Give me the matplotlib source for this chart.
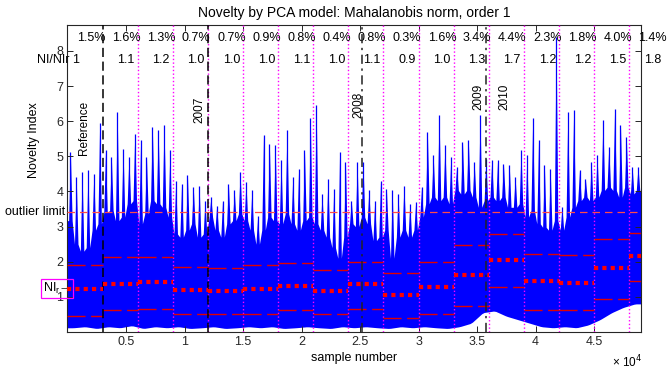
import numpy as np
import matplotlib
matplotlib.use('Agg')
import matplotlib.pyplot as plt
from matplotlib.transforms import blended_transform_factory

plt.rcParams['font.family'] = ['Liberation Sans', 'DejaVu Sans']

# ---------------- data ----------------
seg_edges = [0, 3000, 6000, 9000, 12000, 15000, 18000, 21000, 24000, 27000,
             30000, 33000, 36000, 39000, 42000, 45000, 48000, 49000]
outlier_pct = [1.5, 1.6, 1.3, 0.7, 0.7, 0.9, 0.8, 0.4, 0.8, 0.3, 1.6, 3.4,
               4.4, 2.3, 1.8, 4.0, 1.4]
ni_ratio = [1, 1.1, 1.2, 1.0, 1.0, 1.0, 1.1, 1.0, 1.1, 0.9, 1.0, 1.3, 1.7,
            1.2, 1.2, 1.5, 1.8]
seg_median = [1.21, 1.38, 1.41, 1.19, 1.17, 1.22, 1.31, 1.17, 1.36, 1.04,
              1.27, 1.61, 2.06, 1.45, 1.40, 1.81, 2.15]
seg_upper = [1.92, 2.14, 2.14, 1.86, 1.83, 1.90, 1.95, 1.76, 2.00, 1.67,
             2.00, 2.47, 2.79, 2.23, 2.18, 2.65, 2.82]
seg_lower = [0.46, 0.62, 0.65, 0.51, 0.51, 0.51, 0.62, 0.51, 0.65, 0.41,
             0.51, 0.74, 1.27, 0.62, 0.62, 0.95, 1.44]
outlier_limit = 3.41

# highest novelty index in each 500-sample block
peak_ni = [5.12, 4.40, 4.55, 4.60, 4.50, 5.96, 5.17, 4.98, 6.27, 5.22, 4.98, 5.65,
           5.46, 4.98, 5.84, 5.74, 5.89, 5.17, 4.31, 4.22, 4.46, 4.12, 4.17, 3.74,
           3.84, 3.60, 3.74, 4.22, 4.03, 4.55, 4.27, 4.03, 3.30, 5.60, 5.36, 5.31,
           4.89, 5.74, 4.41, 4.65, 5.17, 6.08, 6.46, 3.93, 4.36, 4.08, 5.12, 4.84,
           3.74, 4.84, 4.84, 4.03, 3.74, 4.31, 4.08, 4.03, 3.93, 4.17, 3.65, 3.70,
           4.12, 5.70, 5.03, 6.17, 5.31, 4.98, 4.70, 5.41, 5.46, 4.84, 6.17, 4.93,
           4.89, 4.89, 4.79, 4.74, 4.41, 5.17, 5.03, 6.08, 5.46, 4.74, 4.65, 8.40,
           3.55, 6.27, 6.31, 4.60, 4.36, 4.84, 5.03, 6.03, 5.27, 6.36, 5.89, 5.55,
           4.70, 4.70]
# top of the dense (solid) band in each 500-sample block
band_top = [3.17, 2.50, 2.30, 2.40, 2.90, 3.08, 3.40, 3.46, 3.17, 3.27, 3.65, 3.74,
            3.08, 3.36, 3.74, 3.65, 3.55, 3.27, 2.79, 2.70, 2.90, 3.08, 2.70, 2.79,
            3.27, 2.90, 2.70, 3.08, 3.17, 3.36, 3.17, 2.90, 2.50, 2.90, 3.27, 3.17,
            3.08, 3.36, 3.08, 2.90, 3.17, 3.27, 3.08, 2.90, 2.70, 2.40, 2.10, 2.70,
            3.08, 3.00, 3.27, 3.08, 2.60, 2.70, 2.90, 2.10, 2.70, 2.90, 2.70, 2.90,
            3.27, 3.65, 3.84, 3.74, 3.84, 3.65, 4.03, 3.93, 4.03, 3.84, 3.55, 3.74,
            3.84, 3.74, 3.84, 3.55, 3.55, 3.65, 3.27, 3.46, 3.08, 2.98, 2.90, 3.17,
            2.90, 3.27, 3.55, 3.74, 3.84, 3.74, 3.84, 4.03, 4.12, 4.03, 3.84, 4.12,
            3.93, 4.03]
# bottom of the band in each 1000-sample block
band_bottom = [0.12, 0.15, 0.10, 0.15, 0.12, 0.18, 0.10, 0.15, 0.12, 0.15, 0.10, 0.12,
               0.15, 0.10, 0.12, 0.15, 0.12, 0.15, 0.10, 0.12, 0.15, 0.12, 0.10, 0.15,
               0.12, 0.15, 0.12, 0.10, 0.15, 0.12, 0.15, 0.12, 0.10,
               0.15, 0.25, 0.55, 0.60, 0.45, 0.35, 0.25, 0.15, 0.12, 0.15, 0.12,
               0.20, 0.35, 0.55, 0.70, 0.80]

year_labels = ['Reference', '2007', '2008', '2009', '2010']
year_lines = [3000, 12000, 25200, 35800]
x_tick_labels = ['0.5', '1', '1.5', '2', '2.5', '3', '3.5', '4', '4.5']
y_ticks = [1, 2, 3, 4, 5, 6, 7, 8]

# ---------------- figure ----------------
fig = plt.figure(figsize=(6.68, 3.69), dpi=100)
ax = fig.add_axes([0.1010, 0.1003, 0.8585, 0.8320])
ax.set_xlim(0, 49000)
ax.set_ylim(0, 8.74)

blue = '#0000ff'
nb = len(peak_ni)
xk = np.arange(nb) * 500.0
top_x = np.r_[0, np.column_stack([xk + 100, xk + 250, xk + 400]).ravel(), 49000]
top_y = np.r_[band_top[0],
              np.column_stack([band_top, peak_ni, band_top]).ravel(),
              band_top[-1]]
xb = np.r_[0, np.arange(len(band_bottom)) * 1000 + 500, 49000]
yb = np.r_[band_bottom[0], band_bottom, band_bottom[-1]]
bot_y = np.interp(top_x, xb, yb)
ax.fill_between(top_x, bot_y, top_y, color=blue, lw=0, zorder=1)
# thin spike tips
ax.vlines(xk + 250, band_top, peak_ni, color=blue, lw=0.9, zorder=1)

# outlier limit
ax.axhline(outlier_limit, color='#ff4a4a', lw=0.9, dashes=(6, 4), zorder=3)

# segment statistics
for i in range(len(seg_median)):
    s, e = seg_edges[i], seg_edges[i + 1]
    ax.plot([s, e], [seg_upper[i], seg_upper[i]], color='#e00000', lw=1.0,
            dashes=(13, 4), zorder=4)
    ax.plot([s, e], [seg_lower[i], seg_lower[i]], color='#e00000', lw=1.0,
            dashes=(13, 4), zorder=4)
    ax.plot([s, e], [seg_median[i], seg_median[i]], color='red', lw=3.0,
            dashes=(1, 1), zorder=5)

# magenta segment separators
for xv in seg_edges[2:-1]:
    ax.axvline(xv, color='#ff00ff', lw=1.0, ls=':', zorder=3)

# year separators
ax.axvline(year_lines[0], color='k', lw=1.1, dashes=(6, 3), zorder=4)
ax.axvline(year_lines[1], color='k', lw=1.1, dashes=(6, 3), zorder=4)
ax.axvline(year_lines[2], color='#222222', lw=1.1, dashes=(6, 3, 1.5, 3), zorder=4)
ax.axvline(year_lines[3], color='#222222', lw=1.1, dashes=(6, 3, 1.5, 3), zorder=4)

year_x = [1440, 11240, 24830, 35090, 37350]
year_y = [5.03, 5.94, 6.09, 6.31, 6.31]
for lab, xv, yv in zip(year_labels, year_x, year_y):
    ax.text(xv, yv, lab, rotation=90, ha='center', va='bottom', fontsize=8.5)

# per-segment annotations
for i in range(len(outlier_pct)):
    xc = seg_edges[i] + 2000
    ax.text(xc, 8.38, '%.1f%%' % outlier_pct[i], ha='center', va='center', fontsize=9)
    if i == 0:
        ax.text(700, 7.74, '%g' % ni_ratio[i], ha='center', va='center', fontsize=9)
    else:
        ax.text(xc, 7.74, '%.1f' % ni_ratio[i], ha='center', va='center', fontsize=9)
ax.text(150, 7.74, 'NI/NIr', ha='right', va='center', fontsize=9)

trans = blended_transform_factory(ax.transAxes, ax.transData)
ax.text(-0.003, outlier_limit, 'outlier limit', transform=trans, ha='right',
        va='center', fontsize=9)
ax.text(300, seg_median[0] + 0.02, 'NI$_\\mathregular{r}$\u2192', ha='right', va='center',
        fontsize=9, bbox=dict(boxstyle='square,pad=0.15', fc='none', ec='#ff00ff', lw=0.9))

# axes styling
ax.set_xticks([5000 * (k + 1) for k in range(len(x_tick_labels))])
ax.set_xticklabels(x_tick_labels)
ax.set_yticks(y_ticks)
ax.set_yticklabels([str(v) for v in y_ticks])
ax.tick_params(direction='in', top=True, right=True, length=4, width=0.7,
               labelsize=9, colors='#262626', pad=3)
for sp in ax.spines.values():
    sp.set_linewidth(0.8)
    sp.set_color('#262626')

ax.set_title('Novelty by PCA model: Mahalanobis norm, order 1', fontsize=10, pad=6)
ax.set_xlabel('sample number', fontsize=9, labelpad=3)
ax.set_ylabel('Novelty Index', fontsize=9)
ax.yaxis.set_label_coords(-0.048, 0.625)
fig.text(612 / 668, 1 - 362 / 369, '\u00d7 10$^4$', ha='left', va='center', fontsize=8.5)

fig.savefig('out.png', dpi=100)
